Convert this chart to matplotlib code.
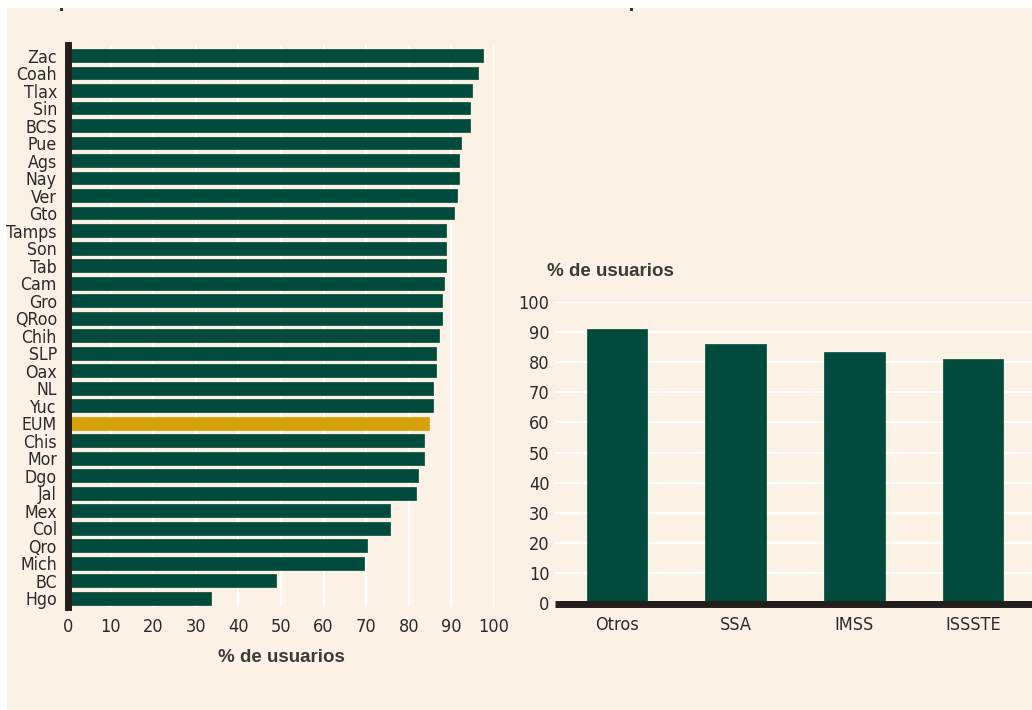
import matplotlib
matplotlib.use("Agg")
import matplotlib.pyplot as plt
from matplotlib.patches import Rectangle
from matplotlib import font_manager as fm

# ---- data ----
states = ["Zac", "Coah", "Tlax", "Sin", "BCS", "Pue", "Ags", "Nay", "Ver", "Gto",
          "Tamps", "Son", "Tab", "Cam", "Gro", "QRoo", "Chih", "SLP", "Oax", "NL",
          "Yuc", "EUM", "Chis", "Mor", "Dgo", "Jal", "Mex", "Col", "Qro", "Mich",
          "BC", "Hgo"]
state_values = [97.5, 96.2, 94.8, 94.4, 94.4, 92.3, 91.8, 91.8, 91.4, 90.5,
                88.7, 88.7, 88.7, 88.3, 87.9, 87.9, 87.0, 86.5, 86.5, 85.7,
                85.7, 84.8, 83.5, 83.5, 82.2, 81.7, 75.6, 75.6, 70.3, 69.4,
                48.8, 33.5]
highlight = "EUM"
x_ticks = [0, 10, 20, 30, 40, 50, 60, 70, 80, 90, 100]

institutions = ["Otros", "SSA", "IMSS", "ISSSTE"]
inst_values = [90.8, 85.9, 83.4, 81.0]
y_ticks = [0, 10, 20, 30, 40, 50, 60, 70, 80, 90, 100]

xlabel_text = "% de usuarios"

# ---- style ----
GREEN = "#004B3B"
GOLD = "#D8A10A"
CREAM = "#FCF1E5"
DARK = "#231F1C"
TXT = "#2a2a2a"
BOLD = ["Liberation Sans", "DejaVu Sans"]

# pick a condensed font if one is available
narrow_kw = None
for fam, stretch in (("Liberation Sans Narrow", "normal"),
                     ("DejaVu Sans", "condensed"),
                     ("Open Sans", "condensed"),
                     ("Roboto", "condensed")):
    try:
        path = fm.findfont(fm.FontProperties(family=fam, stretch=stretch),
                           fallback_to_default=False)
    except Exception:
        continue
    low = path.lower()
    if "narrow" in low or "condensed" in low:
        narrow_kw = dict(family=[fam, "DejaVu Sans"], stretch=stretch)
        break
if narrow_kw is None:
    narrow_kw = dict(family=["Liberation Sans", "DejaVu Sans"])
    LSIZE, TSIZE = 12, 12
else:
    LSIZE, TSIZE = 12.7, 13

W, H = 1032, 710
fig = plt.figure(figsize=(W / 100, H / 100), dpi=100, facecolor="white")
fig.patches.append(Rectangle((7 / W, 0), 1 - 7 / W, (H - 8) / H,
                             transform=fig.transFigure, facecolor=CREAM,
                             edgecolor="none", zorder=-10))
for mx in (60, 630):
    fig.patches.append(Rectangle((mx / W, (H - 11) / H), 3 / W, 3 / H,
                                 transform=fig.transFigure, facecolor="#333333",
                                 edgecolor="none", zorder=-5))


def fx(px):
    return px / W


def fy(py):
    return (H - py) / H


# ---- left chart ----
axL = fig.add_axes([fx(68), fy(607), fx(494) - fx(68), fy(45) - fy(607)])
axL.set_facecolor("none")
ypos = list(range(len(states)))
colors = [GOLD if s == highlight else GREEN for s in states]
axL.barh(ypos, state_values, height=0.74, color=colors, edgecolor=colors,
         linewidth=0.5, zorder=3)
axL.set_xlim(0, 100)
axL.set_ylim(len(states) - 0.49, -0.6)
axL.set_xticks(x_ticks)
axL.set_xticklabels([str(t) for t in x_ticks], fontsize=TSIZE, color=TXT, **narrow_kw)
axL.set_yticks(ypos)
axL.set_yticklabels(states, fontsize=LSIZE, color=TXT, **narrow_kw)
axL.tick_params(axis="both", length=0)
axL.tick_params(axis="x", pad=8)
axL.tick_params(axis="y", pad=8)
axL.xaxis.grid(True, color="white", linewidth=1.6, zorder=0)
axL.set_axisbelow(True)
for s in ("top", "right", "bottom"):
    axL.spines[s].set_visible(False)
axL.spines["left"].set_linewidth(5)
axL.spines["left"].set_color(DARK)
axL.spines["left"].set_zorder(5)
axL.set_xlabel(xlabel_text, family=BOLD, fontweight="bold", fontsize=13.5,
               color="#3a3a3a", labelpad=9)

# ---- right chart ----
axR = fig.add_axes([fx(555), fy(603.5), fx(1032) - fx(555), fy(301.7) - fy(603.5)])
axR.set_facecolor("none")
xpos = list(range(len(institutions)))
axR.bar(xpos, inst_values, width=0.51, color=GREEN, edgecolor=GREEN,
        linewidth=0.5, zorder=3)
axR.set_xlim(-0.522, 3.496)
axR.set_ylim(0, 100)
axR.set_yticks(y_ticks)
axR.set_yticklabels([str(t) for t in y_ticks], fontsize=TSIZE, color=TXT, **narrow_kw)
axR.set_xticks(xpos)
axR.set_xticklabels(institutions, fontsize=TSIZE, color=TXT, **narrow_kw)
axR.tick_params(axis="both", length=0)
axR.tick_params(axis="y", pad=4)
axR.tick_params(axis="x", pad=9)
axR.yaxis.grid(True, color="white", linewidth=1.6, zorder=0)
axR.set_axisbelow(True)
for s in ("top", "right", "left"):
    axR.spines[s].set_visible(False)
axR.spines["bottom"].set_linewidth(5)
axR.spines["bottom"].set_color(DARK)
axR.spines["bottom"].set_zorder(5)
axR.spines["bottom"].set_capstyle("butt")
fig.text(fx(547), fy(271), xlabel_text, family=BOLD, fontweight="bold",
         fontsize=13.5, color="#3a3a3a", ha="left", va="center")

fig.savefig("out.png", dpi=100, facecolor="white")
